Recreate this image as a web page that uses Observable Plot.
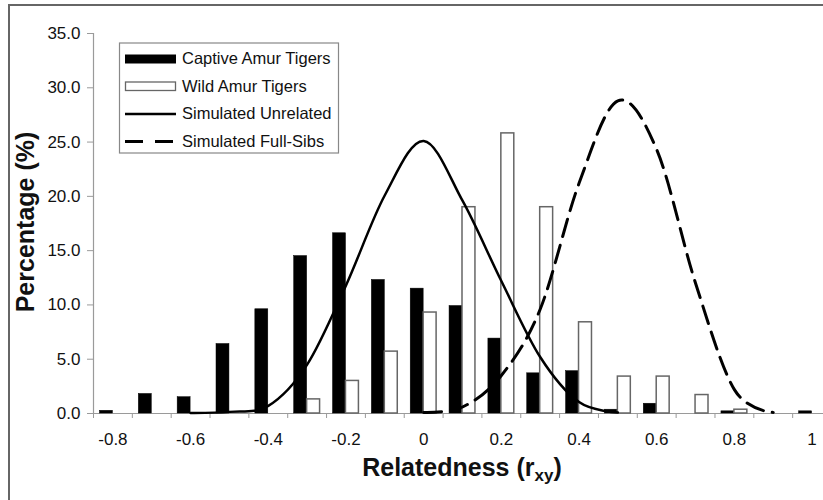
<!DOCTYPE html>
<html>
<head>
<meta charset="utf-8">
<script src="https://cdn.jsdelivr.net/npm/d3@7"></script>
<script src="https://cdn.jsdelivr.net/npm/@observablehq/plot@0.6"></script>
<style>
  html, body { margin: 0; padding: 0; background: #fff; overflow: hidden; }
  #wrap { position: relative; width: 823px; height: 500px; overflow: hidden; background: #fff;
          font-family: "Liberation Sans", Arial, sans-serif; }
  #frame { position: absolute; left: 8px; top: 4px; width: 900px; height: 600px;
           border-left: 2px solid #666; border-top: 2px solid #666; box-sizing: border-box; }
  #chart { position: absolute; left: 0; top: 0; }
  #overlay { position: absolute; left: 0; top: 0; pointer-events: none; }
</style>
</head>
<body>
<div id="wrap">
  <div id="frame"></div>
  <div id="chart"></div>
  <svg id="overlay" width="823" height="500"></svg>
</div>
<script>
// ---- data ----
const categories = [-0.8, -0.7, -0.6, -0.5, -0.4, -0.3, -0.2, -0.1, 0, 0.1, 0.2, 0.3, 0.4, 0.5, 0.6, 0.7, 0.8, 0.9, 1];
const captive    = [0.25, 1.8, 1.5, 6.4, 9.6, 14.5, 16.6, 12.3, 11.5, 9.9, 6.9, 3.7, 3.9, 0.35, 0.9, 0, 0.2, 0, 0.2];
const wild       = [0, 0, 0, 0, 0, 1.3, 3.0, 5.7, 9.3, 19.0, 25.8, 19.0, 8.4, 3.4, 3.4, 1.7, 0.35, 0, 0];
const unrelatedX = [-0.6, -0.5, -0.4, -0.3, -0.2, -0.1, 0, 0.1, 0.2, 0.3, 0.4, 0.5];
const unrelated  = [0.05, 0.15, 0.7, 4.5, 11.8, 20.1, 25.1, 19.6, 12.2, 5.2, 1.05, 0.1];
const fullSibsX  = [0, 0.1, 0.2, 0.3, 0.4, 0.5, 0.6, 0.7, 0.8, 0.9];
const fullSibs   = [0.1, 0.6, 3.5, 9.6, 21.2, 28.8, 24.3, 12.0, 2.2, 0.1];
const yTicks     = [0, 5, 10, 15, 20, 25, 30, 35];
const xTickLabels = categories.filter((_, i) => i % 2 === 0);
const seriesNames = ["Captive Amur Tigers", "Wild Amur Tigers", "Simulated Unrelated", "Simulated Full-Sibs"];
const xTitle = "Relatedness (r";
const xTitleSub = "xy";
const yTitle = "Percentage (%)";

// ---- tables built from the arrays ----
const step = 0.1;
const barW = step / 3;
const bars = categories.map((c, i) => ({c, captive: captive[i], wild: wild[i]}));
const unrelTable = unrelatedX.map((c, i) => ({c, v: unrelated[i]}));
const sibsTable = fullSibsX.map((c, i) => ({c, v: fullSibs[i]}));
const boundaries = categories.map(c => c - step / 2).concat([categories[categories.length - 1] + step / 2]);
const xDomain = [categories[0] - step / 2, categories[categories.length - 1] + step / 2];

const font = '"Liberation Sans", Arial, sans-serif';

const chart = Plot.plot({
  width: 823,
  height: 500,
  marginLeft: 93,
  marginRight: -8,
  marginTop: 33,
  marginBottom: 87,
  style: {fontFamily: font, fontSize: "17px", color: "#111", background: "transparent", overflow: "visible"},
  x: {type: "linear", domain: xDomain, axis: null},
  y: {type: "linear", domain: [0, 35], axis: null},
  marks: [
    Plot.axisY({ticks: yTicks, tickFormat: d3.format(".1f"), tickSize: 6, tickPadding: 7,
                stroke: "#9a9a9a", label: null}),
    Plot.axisX({ticks: boundaries, tickSize: 5, tickFormat: () => "", stroke: "#9a9a9a", label: null}),
    Plot.axisX({ticks: xTickLabels, tickSize: 0, tickPadding: 19, tickFormat: d => String(d), label: null}),
    Plot.ruleX([xDomain[0]], {y1: 0, y2: 35, stroke: "#9a9a9a", strokeWidth: 1.2}),
    Plot.ruleY([0], {stroke: "#9a9a9a", strokeWidth: 1.2}),
    Plot.rectY(bars, {x1: d => d.c - barW, x2: d => d.c, y1: 0, y2: "captive", fill: "#000", stroke: "#000", strokeWidth: 0.5}),
    Plot.rectY(bars.filter(d => d.wild > 0), {x1: d => d.c, x2: d => d.c + barW, y1: 0, y2: "wild", fill: "#fff", stroke: "#666", strokeWidth: 1.5}),
    Plot.line(unrelTable, {x: "c", y: "v", curve: "cardinal", stroke: "#000", strokeWidth: 2.5}),
    Plot.line(sibsTable, {x: "c", y: "v", curve: "cardinal", stroke: "#000", strokeWidth: 3, strokeDasharray: "18,9"})
  ]
});
document.getElementById("chart").appendChild(chart);

// ---- overlay: legend and axis titles ----
const ov = d3.select("#overlay");
const lg = ov.append("g");
lg.append("rect").attr("x", 119.5).attr("y", 43).attr("width", 219).attr("height", 110)
  .attr("fill", "#fff").attr("stroke", "#888").attr("stroke-width", 1.2);
const baselines = [64, 91.7, 119.3, 146.7];
// swatches
lg.append("rect").attr("x", 125).attr("y", 54.5).attr("width", 51).attr("height", 9).attr("fill", "#000");
lg.append("rect").attr("x", 125.5).attr("y", 82).attr("width", 50).attr("height", 8.5)
  .attr("fill", "#fff").attr("stroke", "#666").attr("stroke-width", 1.3);
lg.append("line").attr("x1", 125).attr("x2", 176).attr("y1", 114).attr("y2", 114)
  .attr("stroke", "#000").attr("stroke-width", 2.5);
lg.append("line").attr("x1", 125).attr("x2", 176).attr("y1", 141.5).attr("y2", 141.5)
  .attr("stroke", "#000").attr("stroke-width", 3).attr("stroke-dasharray", "18,12");
seriesNames.forEach((name, i) => {
  lg.append("text").attr("x", 182).attr("y", baselines[i])
    .attr("font-family", font).attr("font-size", 16.5).attr("fill", "#111").text(name);
});

// x title
const xt = ov.append("text").attr("x", 462).attr("y", 476).attr("text-anchor", "middle")
  .attr("font-family", font).attr("font-size", 25).attr("font-weight", "bold").attr("fill", "#111");
xt.append("tspan").text(xTitle);
xt.append("tspan").attr("font-size", 17).attr("dy", 5).text(xTitleSub);
xt.append("tspan").attr("dy", -5).text(")");

// y title
ov.append("text").attr("transform", "translate(34,222) rotate(-90)").attr("text-anchor", "middle")
  .attr("font-family", font).attr("font-size", 25).attr("font-weight", "bold").attr("fill", "#111")
  .text(yTitle);
</script>
</body>
</html>
